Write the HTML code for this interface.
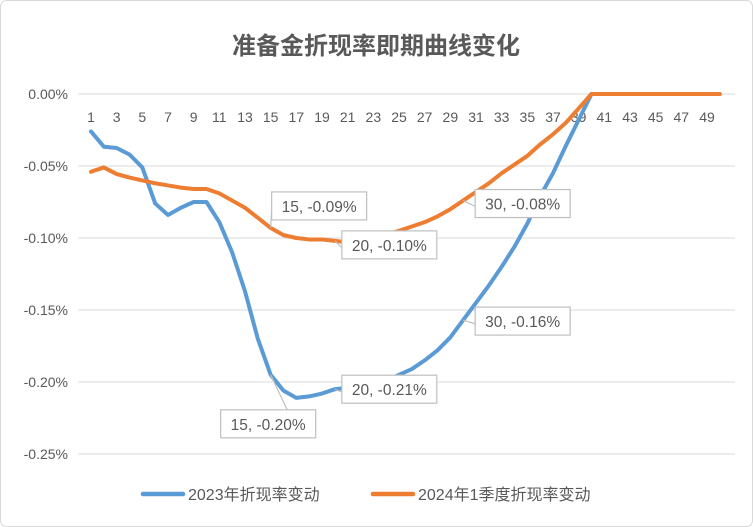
<!DOCTYPE html>
<html><head><meta charset="utf-8">
<style>
html,body{margin:0;padding:0;background:#fff;}
svg{display:block;font-family:"Liberation Sans","Noto Sans CJK SC",sans-serif;}
</style></head>
<body>
<svg id="chart" width="753" height="527" viewBox="0 0 753 527">
  <rect x="0.5" y="0.5" width="752" height="526" rx="6" fill="#fff" stroke="#d9d9d9"/>
  <text x="376" y="54" text-anchor="middle" font-size="24" font-weight="bold" fill="#595959" font-family="'Liberation Sans','Noto Sans CJK SC',sans-serif">准备金折现率即期曲线变化</text>
  <g id="grid"></g><g id="ylabels"></g><g id="xlabels"></g><g id="series"></g><g id="callouts"></g>
  <g>
    <line x1="143" y1="494" x2="183" y2="494" stroke="#5b9bd5" stroke-width="4.5" stroke-linecap="round"/>
    <text x="188" y="500" font-size="16" fill="#595959">2023年折现率变动</text>
    <line x1="373" y1="494" x2="413" y2="494" stroke="#ed7d31" stroke-width="4.5" stroke-linecap="round"/>
    <text x="418" y="500" font-size="16" fill="#595959">2024年1季度折现率变动</text>
  </g>
</svg>
<script>
const categories = Array.from({length:50},(_,i)=>i+1);
const yTicks = [0,-0.05,-0.10,-0.15,-0.20,-0.25];
const yTickLabels = ["0.00%","-0.05%","-0.10%","-0.15%","-0.20%","-0.25%"];
const series2023 = [-0.026,-0.0366,-0.0375,-0.042,-0.051,-0.076,-0.084,-0.079,-0.075,-0.075,
 -0.089,-0.11,-0.137,-0.17,-0.195,-0.206,-0.211,-0.210,-0.208,-0.205,
 -0.204,-0.203,-0.202,-0.199,-0.195,-0.191,-0.185,-0.178,-0.169,-0.157,
 -0.145,-0.133,-0.12,-0.106,-0.09,-0.071,-0.055,-0.036,-0.018,0,
 0,0,0,0,0,0,0,0,0,0];
const series2024 = [-0.054,-0.051,-0.0556,-0.058,-0.060,-0.062,-0.0635,-0.065,-0.066,-0.066,
 -0.069,-0.074,-0.079,-0.086,-0.093,-0.098,-0.100,-0.101,-0.101,-0.102,
 -0.103,-0.102,-0.100,-0.098,-0.095,-0.092,-0.089,-0.085,-0.080,-0.074,
 -0.068,-0.062,-0.055,-0.049,-0.043,-0.035,-0.028,-0.020,-0.010,0,
 0,0,0,0,0,0,0,0,0,0];
const calloutIdx2023 = [15,20,30];
const calloutText2023 = ["15, -0.20%","20, -0.21%","30, -0.16%"];
const calloutIdx2024 = [15,20,30];
const calloutText2024 = ["15, -0.09%","20, -0.10%","30, -0.08%"];

const NS="http://www.w3.org/2000/svg";
const X=i=>91+(i-1)*12.833;
const Y=v=>94+(-v)*1440;
function mk(tag,attrs,parent){const e=document.createElementNS(NS,tag);for(const k in attrs)e.setAttribute(k,attrs[k]);parent.appendChild(e);return e;}
const grid=document.getElementById('grid'),yl=document.getElementById('ylabels'),xl=document.getElementById('xlabels'),sg=document.getElementById('series'),cg=document.getElementById('callouts');
yTicks.forEach((v,k)=>{
  const l=mk('line',{x1:78,x2:735,y1:Y(v),y2:Y(v),stroke:'#d9d9d9','stroke-width':1},grid);
  
  
  const t=mk('text',{x:68,y:Y(v)+5,'text-anchor':'end','font-size':14,fill:'#595959'},yl);
  t.textContent=yTickLabels[k];
  
  
});
categories.forEach(c=>{
  if(c%2===0)return;
  const t=mk('text',{x:X(c),y:122,'text-anchor':'middle','font-size':14,fill:'#595959'},xl);
  t.textContent=c;
  
  
});
function line(data,color,name){
  const p=mk('polyline',{points:data.map((v,i)=>X(categories[i])+','+Y(v)).join(' '),fill:'none',stroke:color,'stroke-width':4,'stroke-linejoin':'round','stroke-linecap':'round'},sg);
  
  
}
line(series2023,'#5b9bd5','line-2023');
line(series2024,'#ed7d31','line-2024q1');
function callout(data,idx,txt,offs,name){
  idx.forEach((c,k)=>{
    const px=X(c),py=Y(data[c-1]);
    const bx=px+offs[k][0],by=py+offs[k][1],w=95,h=28;
    let ex,ey;
    if(offs[k][0]<0){ex=bx+w*0.7;ey=offs[k][1]<0?by+h:by;}
    else{ex=bx;ey=by+h*0.6;}
    const ld=mk('line',{x1:px,y1:py,x2:ex,y2:ey,stroke:'#bfbfbf','stroke-width':1.2},cg);
    
    
    const r=mk('rect',{x:bx,y:by,width:w,height:h,fill:'#fff',stroke:'#bfbfbf','stroke-width':1.2},cg);
    
    
    const t=mk('text',{x:bx+w/2,y:by+20,'text-anchor':'middle','font-size':15.5,fill:'#595959'},cg);
    t.textContent=txt[k];
    
    
  });
}
callout(series2024,calloutIdx2024,calloutText2024,[[1,-36],[7,-10],[12,-11]],'callout-2024');
callout(series2023,calloutIdx2023,calloutText2023,[[-50,35],[7,-14],[12,-13]],'callout-2023');
</script>
</body></html>
